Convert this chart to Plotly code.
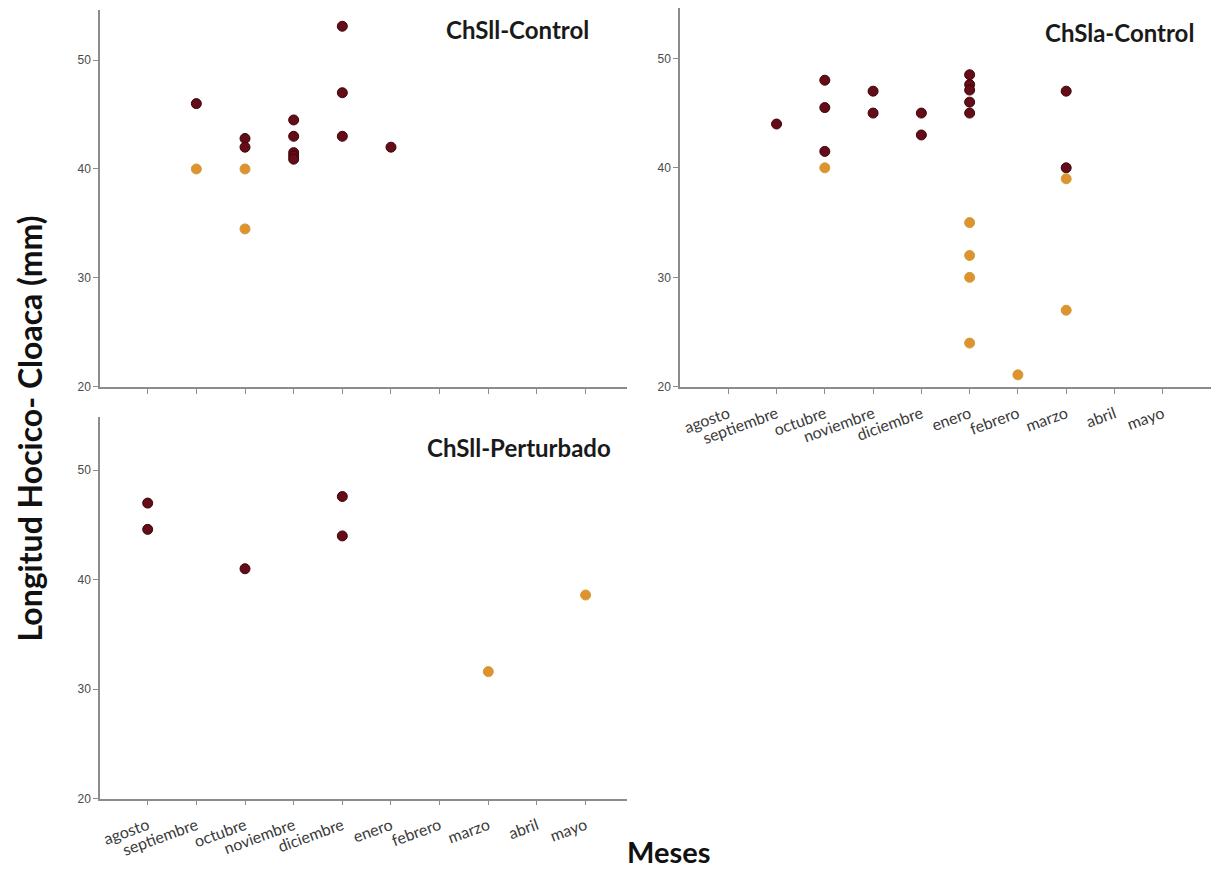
import plotly.graph_objects as go

months = ["agosto", "septiembre", "octubre", "noviembre", "diciembre",
          "enero", "febrero", "marzo", "abril", "mayo"]

# Panel 1: ChSll-Control
p1_dark_x = ["septiembre", "octubre", "octubre", "noviembre", "noviembre", "noviembre",
             "noviembre", "noviembre", "diciembre", "diciembre", "diciembre", "enero"]
p1_dark_y = [46.0, 42.8, 42.0, 44.5, 43.0, 41.5, 41.2, 40.9, 53.1, 47.0, 43.0, 42.0]
p1_orange_x = ["septiembre", "octubre", "octubre"]
p1_orange_y = [40.0, 40.0, 34.5]

# Panel 2: ChSla-Control
p2_dark_x = ["septiembre", "octubre", "octubre", "octubre", "noviembre", "noviembre",
             "diciembre", "diciembre", "enero", "enero", "enero", "enero", "enero",
             "marzo", "marzo"]
p2_dark_y = [44.0, 48.0, 45.5, 41.5, 47.0, 45.0, 45.0, 43.0,
             48.5, 47.6, 47.1, 46.0, 45.0, 47.0, 40.0]
p2_orange_x = ["octubre", "enero", "enero", "enero", "enero", "febrero", "marzo", "marzo"]
p2_orange_y = [40.0, 35.0, 32.0, 30.0, 24.0, 21.1, 39.0, 27.0]

# Panel 3: ChSll-Perturbado
p3_dark_x = ["agosto", "agosto", "octubre", "diciembre", "diciembre"]
p3_dark_y = [47.0, 44.6, 41.0, 47.6, 44.0]
p3_orange_x = ["marzo", "mayo"]
p3_orange_y = [31.6, 38.6]

yticks = [20, 30, 40, 50]

DARK = "#640c17"
DARK_LINE = "#3e0409"
ORANGE = "#e0922f"
ORANGE_LINE = "#caa03a"

W, H = 1211, 875

def px_x(p):
    return p / W

def px_y(p):
    return 1 - p / H

fig = go.Figure()

def add_panel(n, dx, dy, ox, oy):
    xa = "x" if n == 1 else f"x{n}"
    ya = "y" if n == 1 else f"y{n}"
    fig.add_trace(go.Scatter(x=dx, y=dy, mode="markers", xaxis=xa, yaxis=ya,
                             marker=dict(size=10, color=DARK,
                                         line=dict(color=DARK_LINE, width=1)),
                             showlegend=False))
    fig.add_trace(go.Scatter(x=ox, y=oy, mode="markers", xaxis=xa, yaxis=ya,
                             marker=dict(size=10, color=ORANGE,
                                         line=dict(color=ORANGE_LINE, width=1)),
                             showlegend=False))

add_panel(1, p1_dark_x, p1_dark_y, p1_orange_x, p1_orange_y)
add_panel(2, p2_dark_x, p2_dark_y, p2_orange_x, p2_orange_y)
add_panel(3, p3_dark_x, p3_dark_y, p3_orange_x, p3_orange_y)

axis_common = dict(showgrid=False, zeroline=False, showline=True,
                   linecolor="#8c8c8c", linewidth=1.5,
                   ticks="outside", ticklen=5, tickcolor="#8c8c8c", tickwidth=1)

xcommon = dict(axis_common, type="category", categoryorder="array",
               categoryarray=months,
               tickfont=dict(family="Lato", size=16, color="#3a3a3a"),
               tickangle=-20, ticklabelstandoff=5)
ycommon = dict(axis_common, tickvals=yticks,
               tickfont=dict(family="Liberation Sans", size=12, color="#4a4a4a"))

fig.update_layout(
    width=W, height=H,
    margin=dict(l=0, r=0, t=0, b=0),
    plot_bgcolor="white", paper_bgcolor="white",
    xaxis=dict(xcommon, domain=[px_x(100), px_x(627)], range=[-0.98, 9.85],
               anchor="y", showticklabels=False),
    yaxis=dict(ycommon, domain=[px_y(390), px_y(10)], range=[20, 54.6], anchor="x"),
    xaxis2=dict(xcommon, domain=[px_x(680), 1.0], range=[-1.0, 10.0], anchor="y2"),
    yaxis2=dict(ycommon, domain=[px_y(390), px_y(8)], range=[20, 54.6], anchor="x2"),
    xaxis3=dict(xcommon, domain=[px_x(100), px_x(627)], range=[-0.98, 9.85], anchor="y3"),
    yaxis3=dict(ycommon, domain=[px_y(805), px_y(420)], range=[20, 54.9], anchor="x3"),
)

title_font = dict(family="Lato", size=24, color="#1a1a1a")
annotations = [
    dict(text="<b>ChSll-Control</b>", x=px_x(591), y=px_y(30), xanchor="right", yanchor="middle"),
    dict(text="<b>ChSla-Control</b>", x=px_x(1196), y=px_y(33), xanchor="right", yanchor="middle"),
    dict(text="<b>ChSll-Perturbado</b>", x=px_x(613), y=px_y(451), xanchor="right", yanchor="middle"),
]
for a in annotations:
    fig.add_annotation(xref="paper", yref="paper", showarrow=False, font=title_font, **a)

fig.add_annotation(text="<b>Longitud Hocico- Cloaca (mm)</b>", xref="paper", yref="paper",
                   x=px_x(30), y=px_y(432), xanchor="center", yanchor="middle",
                   textangle=-90, showarrow=False,
                   font=dict(family="Lato", size=32, color="#111111"))
fig.add_annotation(text="<b>Meses</b>", xref="paper", yref="paper",
                   x=px_x(668), y=px_y(858), xanchor="center", yanchor="middle",
                   showarrow=False, font=dict(family="Lato", size=29, color="#111111"))

fig.write_html("out.html")
